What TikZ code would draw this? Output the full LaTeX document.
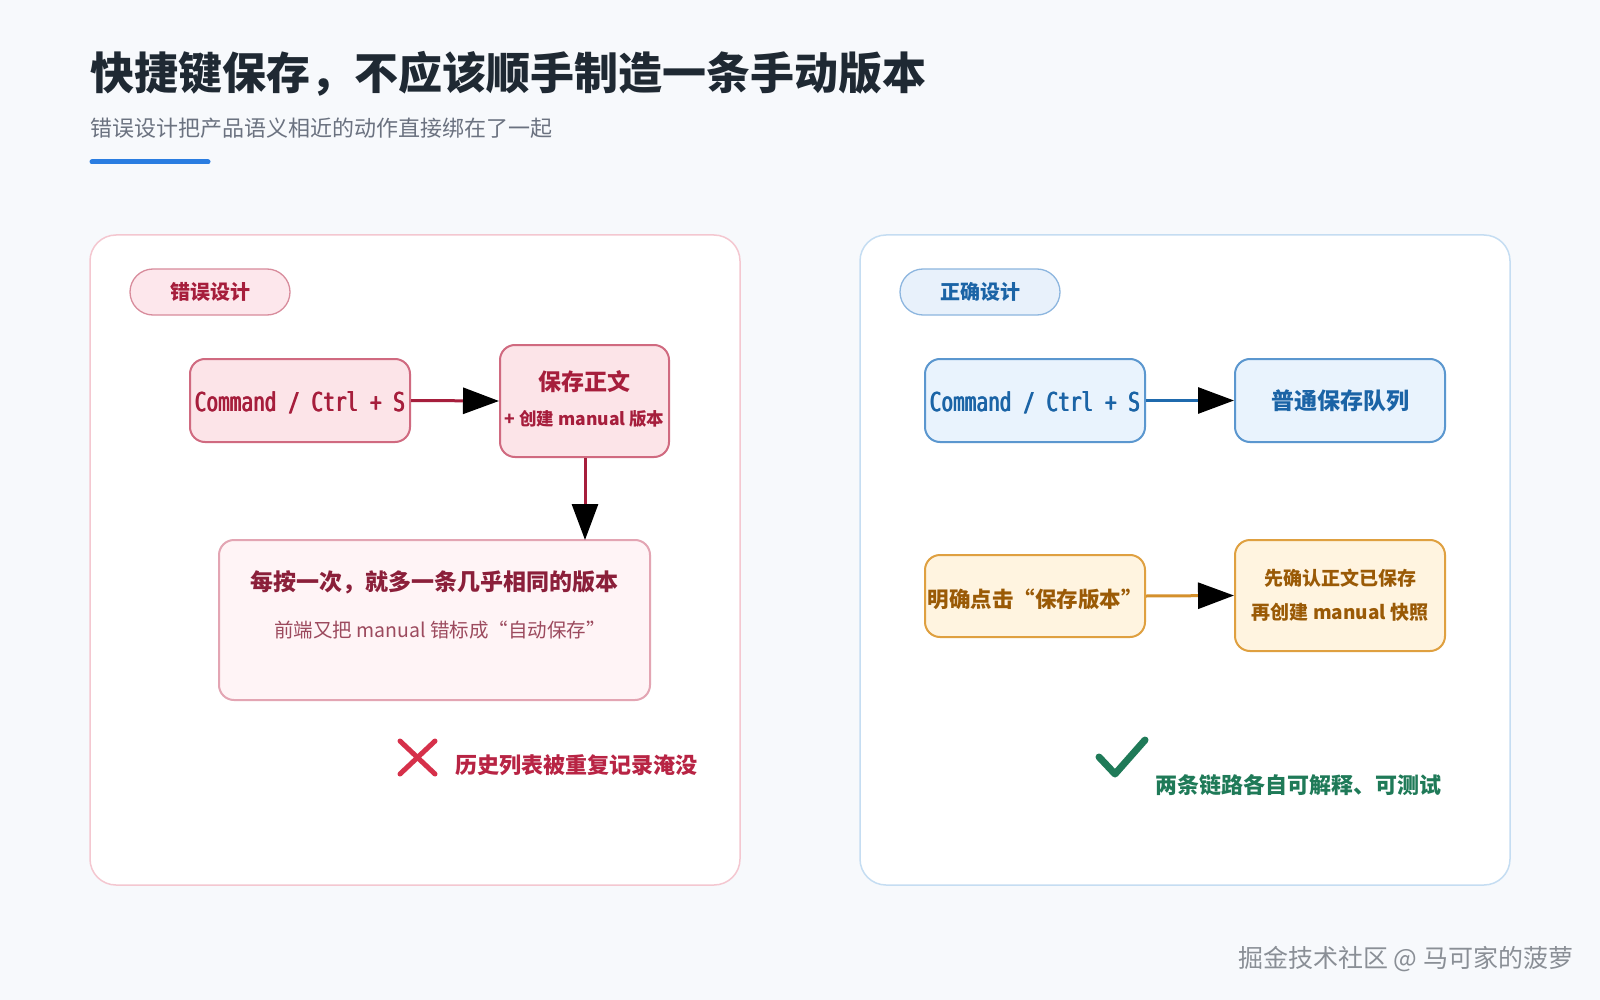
\documentclass[tikz,border=0pt]{standalone}
\usepackage{fontspec}
\setmainfont{Noto Sans CJK SC}
\newfontfamily\monofnt{DejaVu Sans Mono}
\usetikzlibrary{arrows.meta}
\definecolor{bg}{HTML}{F7F9FC}
\definecolor{titlec}{HTML}{1F2933}
\definecolor{subc}{HTML}{6B7280}
\definecolor{barc}{HTML}{2A7DE1}
\definecolor{lpanel}{HTML}{F4C7D0}
\definecolor{rpanel}{HTML}{C5DDF2}
\definecolor{rbadgef}{HTML}{FDE7EC}
\definecolor{rbadged}{HTML}{D88C9C}
\definecolor{rtext}{HTML}{A61E3C}
\definecolor{rfill}{HTML}{FCE4E8}
\definecolor{rdraw}{HTML}{D06A80}
\definecolor{rline}{HTML}{A61E3C}
\definecolor{rbfill}{HTML}{FFF4F6}
\definecolor{rbdraw}{HTML}{E3A5B3}
\definecolor{rbtitle}{HTML}{8B1F3A}
\definecolor{rbsub}{HTML}{9C4A5E}
\definecolor{xmark}{HTML}{D6304A}
\definecolor{xtext}{HTML}{B82444}
\definecolor{bbadgef}{HTML}{E8F1FB}
\definecolor{bbadged}{HTML}{8DB6DF}
\definecolor{btext}{HTML}{1B64A6}
\definecolor{bfill}{HTML}{E9F3FD}
\definecolor{bdraw}{HTML}{5B97CF}
\definecolor{bline}{HTML}{1F6AAD}
\definecolor{ofill}{HTML}{FFF4E0}
\definecolor{odraw}{HTML}{DFA040}
\definecolor{otext}{HTML}{9A5A06}
\definecolor{oline}{HTML}{D4902C}
\definecolor{gcol}{HTML}{1F7A58}
\definecolor{wmark}{HTML}{8A8F96}
\newcommand{\keytxt}{Command / Ctrl + S}
\newcommand{\keycombo}{\scalebox{0.97}[1.3]{\makebox[0pt][l]{\keytxt}\makebox[0pt][l]{\hspace{0.5pt}\keytxt}\hspace{1pt}\keytxt}}
\tikzset{
  panel/.style={draw, line width=1.5pt, fill=white, rounded corners=26pt, minimum width=650pt, minimum height=650pt, inner sep=0pt},
  badge/.style={draw, line width=1.3pt, rounded corners=23pt, minimum width=160pt, minimum height=46pt, inner sep=0pt, font=\fontsize{20}{24}\selectfont\bfseries},
  fbox/.style={draw, line width=2pt, rounded corners=15pt, inner sep=0pt, align=center},
  conn/.style={line width=3pt, -{Triangle[length=36pt,width=26pt,color=black]}},
}
\begin{document}
\begin{tikzpicture}[x=1pt,y=-1pt]
\useasboundingbox (0,0) rectangle (1600,1000);
\fill[bg] (0,0) rectangle (1600,1000);
% title
\node[anchor=west, text=titlec, font=\fontsize{44}{52}\selectfont\bfseries, inner sep=0pt] (title) at (90,74) {快捷键保存，不应该顺手制造一条手动版本};
\node[anchor=west, text=subc, font=\fontsize{22}{26}\selectfont, inner sep=0pt] (subtitle) at (90,128) {错误设计把产品语义相近的动作直接绑在了一起};
\draw[barc, line width=5pt, line cap=round] (92,162) -- (208,162);
% panels
\node[panel, draw=lpanel] (lp) at (415,560) {};
\node[panel, draw=rpanel] (rp) at (1185,560) {};
% left
\node[badge, draw=rbadged, fill=rbadgef, text=rtext] (lbadge) at (210,292) {错误设计};
\node[fbox, draw=rdraw, fill=rfill, minimum width=220pt, minimum height=83pt] (lcmd) at (300,400.5) {};
\node[text=rtext, font=\monofnt\fontsize{20}{24}\selectfont, inner sep=0pt] (lcmdt) at (300,403) {\keycombo};
\node[fbox, draw=rdraw, fill=rfill, text=rtext, minimum width=169pt, minimum height=112pt] (lsave) at (584.5,401) {};
\node[text=rtext, font=\fontsize{23}{27}\selectfont\bfseries, inner sep=0pt] (lsave1) at (584.5,382) {保存正文};
\node[text=rtext, font=\fontsize{17.5}{20}\selectfont\bfseries, inner sep=0pt] (lsave2) at (584.5,419) {+ 创建 manual 版本};
\node[fbox, draw=rbdraw, fill=rbfill, minimum width=431pt, minimum height=160pt] (lres) at (434.5,620) {};
\node[text=rbtitle, font=\fontsize{23}{27}\selectfont\bfseries, inner sep=0pt] (lres1) at (434.5,582) {每按一次，就多一条几乎相同的版本};
\node[text=rbsub, font=\fontsize{19.5}{24}\selectfont, inner sep=0pt] (lres2) at (440,630) {前端又把 manual 错标成“自动保存”};
\draw[conn, rline] (lcmd.east) -- (lsave.west);
\draw[conn, rline] (lsave.south -| 585,0) -- (585,540);
\draw[xmark, line width=5pt, line cap=round] (400,741) -- (435,774) (435,741) -- (400,774);
\node[anchor=west, text=xtext, font=\fontsize{22}{26}\selectfont\bfseries, inner sep=0pt] (lbad) at (455,765) {历史列表被重复记录淹没};
% right
\node[badge, draw=bbadged, fill=bbadgef, text=btext] (rbadge) at (980,292) {正确设计};
\node[fbox, draw=bdraw, fill=bfill, minimum width=220pt, minimum height=83pt] (rcmd) at (1035,400.5) {};
\node[text=btext, font=\monofnt\fontsize{20}{24}\selectfont, inner sep=0pt] (rcmdt) at (1035,403) {\keycombo};
\node[fbox, draw=bdraw, fill=bfill, text=btext, minimum width=210pt, minimum height=83pt, font=\fontsize{23}{27}\selectfont\bfseries] (rqueue) at (1340,400.5) {普通保存队列};
\draw[conn, bline] (rcmd.east) -- (rqueue.west);
\node[fbox, draw=odraw, fill=ofill, minimum width=220pt, minimum height=82pt] (rclick) at (1035,596) {};
\node[text=otext, font=\fontsize{21.5}{25}\selectfont\bfseries, inner sep=0pt] (rclickt) at (1035,599) {明确点击“保存版本”};
\node[fbox, draw=odraw, fill=ofill, text=otext, minimum width=210pt, minimum height=111pt, font=\fontsize{19}{34}\selectfont\bfseries] (rsnap) at (1340,595.5) {先确认正文已保存\\再创建 manual 快照};
\draw[conn, oline] (rclick.east) -- (rsnap.west);
\draw[gcol, line width=7pt, line cap=round, line join=round] (1099,757) -- (1115,774) -- (1145,740);
\node[anchor=west, text=gcol, font=\fontsize{22}{26}\selectfont\bfseries, inner sep=0pt] (rgood) at (1155,785) {两条链路各自可解释、可测试};
% watermark
\node[anchor=west, text=wmark, font=\fontsize{25}{29}\selectfont, inner sep=0pt] (wm) at (1238,959) {掘金技术社区 @ 马可家的菠萝};
\end{tikzpicture}
\end{document}
